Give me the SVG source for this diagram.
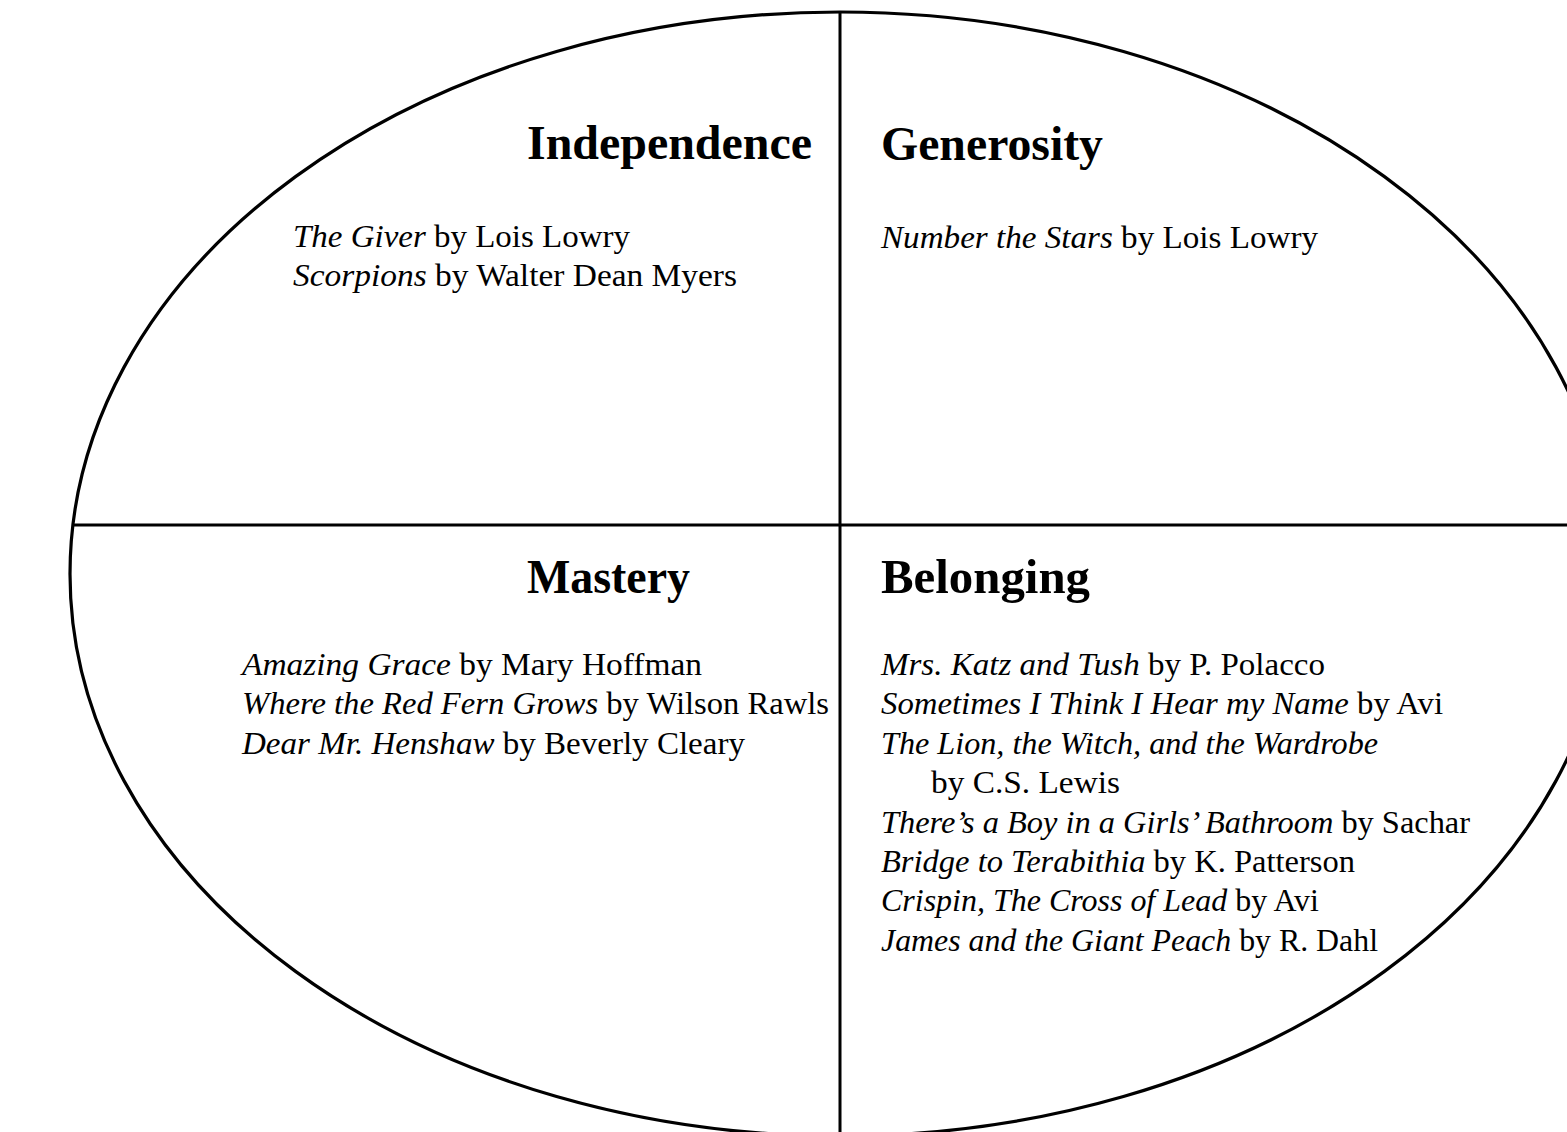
<svg xmlns="http://www.w3.org/2000/svg" width="1567" height="1132" viewBox="0 0 1567 1132">
  <style>
    .frame { fill: none; stroke: #000; stroke-width: 3.2; }
    .rule { stroke: #000; stroke-width: 3; }
    .head { font-family: "Liberation Serif", "DejaVu Serif", serif; font-weight: bold; font-size: 48px; fill: #000; }
    .item { font-family: "Liberation Serif", "DejaVu Serif", serif; font-size: 32px; fill: #000; }
    .item .t { font-style: italic; }
  </style>
  <rect width="1567" height="1132" fill="#fff"/>

  <!-- outer oval and the two dividing rules -->
  <g id="frame">
    <ellipse class="frame" cx="840" cy="574" rx="770" ry="562"/>
    <line class="rule" x1="840" y1="12" x2="840" y2="1132"/>
    <line class="rule" x1="72" y1="525" x2="1567" y2="525"/>
  </g>

  <!-- top-left quadrant -->
  <g id="independence">
    <text class="head" x="812" y="159" text-anchor="end" textLength="285" lengthAdjust="spacingAndGlyphs">Independence</text>
    <text class="item" x="293" y="247" textLength="337" lengthAdjust="spacingAndGlyphs"><tspan class="t">The Giver</tspan> by Lois Lowry</text>
    <text class="item" x="293" y="286" textLength="444" lengthAdjust="spacingAndGlyphs"><tspan class="t">Scorpions</tspan> by Walter Dean Myers</text>
  </g>

  <!-- top-right quadrant -->
  <g id="generosity">
    <text class="head" x="881" y="160" textLength="222" lengthAdjust="spacingAndGlyphs">Generosity</text>
    <text class="item" x="881" y="248" textLength="437" lengthAdjust="spacingAndGlyphs"><tspan class="t">Number the Stars</tspan> by Lois Lowry</text>
  </g>

  <!-- bottom-left quadrant -->
  <g id="mastery">
    <text class="head" x="527" y="593" textLength="163" lengthAdjust="spacingAndGlyphs">Mastery</text>
    <text class="item" x="242" y="675" textLength="460" lengthAdjust="spacingAndGlyphs"><tspan class="t">Amazing Grace</tspan> by Mary Hoffman</text>
    <text class="item" x="242" y="714" textLength="587" lengthAdjust="spacingAndGlyphs"><tspan class="t">Where the Red Fern Grows</tspan> by Wilson Rawls</text>
    <text class="item" x="242" y="754" textLength="503" lengthAdjust="spacingAndGlyphs"><tspan class="t">Dear Mr. Henshaw</tspan> by Beverly Cleary</text>
  </g>

  <!-- bottom-right quadrant -->
  <g id="belonging">
    <text class="head" x="881" y="593" textLength="209" lengthAdjust="spacingAndGlyphs">Belonging</text>
    <text class="item" x="881" y="675" textLength="444" lengthAdjust="spacingAndGlyphs"><tspan class="t">Mrs. Katz and Tush</tspan> by P. Polacco</text>
    <text class="item" x="881" y="714" textLength="562" lengthAdjust="spacingAndGlyphs"><tspan class="t">Sometimes I Think I Hear my Name</tspan> by Avi</text>
    <text class="item" x="881" y="754" textLength="497" lengthAdjust="spacingAndGlyphs" font-style="italic">The Lion, the Witch, and the Wardrobe</text>
    <text class="item" x="931" y="793" textLength="189" lengthAdjust="spacingAndGlyphs">by C.S. Lewis</text>
    <text class="item" x="881" y="833" textLength="589" lengthAdjust="spacingAndGlyphs"><tspan class="t">There’s a Boy in a Girls’ Bathroom</tspan> by Sachar</text>
    <text class="item" x="881" y="872" textLength="474" lengthAdjust="spacingAndGlyphs"><tspan class="t">Bridge to Terabithia</tspan> by K. Patterson</text>
    <text class="item" x="881" y="911" textLength="438" lengthAdjust="spacingAndGlyphs"><tspan class="t">Crispin, The Cross of Lead</tspan> by Avi</text>
    <text class="item" x="881" y="951" textLength="497" lengthAdjust="spacingAndGlyphs"><tspan class="t">James and the Giant Peach</tspan> by R. Dahl</text>
  </g>
</svg>
